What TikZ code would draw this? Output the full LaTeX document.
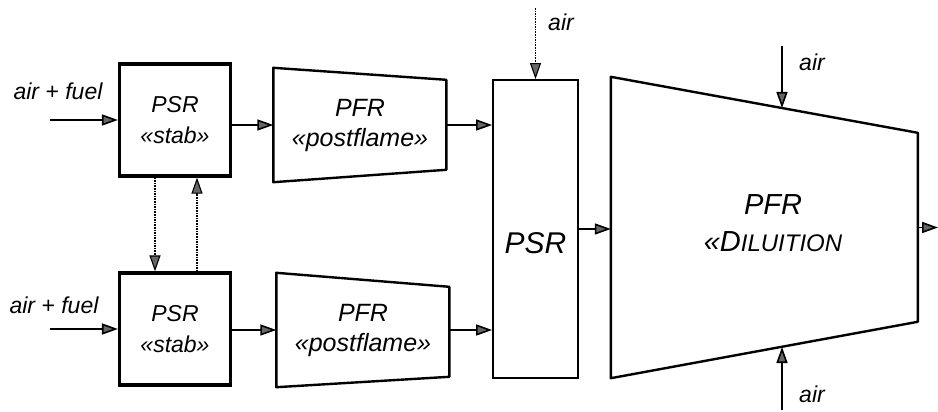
\documentclass[tikz,border=0pt]{standalone}
\usepackage{fontspec}
\setmainfont{Liberation Sans}
\usetikzlibrary{arrows.meta,shapes}

\begin{document}
\begin{tikzpicture}[x=1pt,y=-1pt,
    every node/.style={font=\itshape\fontsize{23}{31}\selectfont, align=center},
    psrbox/.style={draw, line width=3.2pt, minimum width=111pt, minimum height=112pt, inner sep=0pt},
    pfrbox/.style={minimum width=173pt, minimum height=114pt, inner sep=0pt, font=\itshape\fontsize{25}{30}\selectfont},
    pfrline/.style={line width=2.4pt, line join=round},
    flow/.style={line width=1.6pt, -{Triangle[length=16pt,width=11pt,fill=black!60]}},
    recyc/.style={flow, densely dotted, line width=1.1pt}]
  \useasboundingbox (0,0) rectangle (938,412);

  % two stabilising reactors
  \node[psrbox] (psr1) at (175,120) {PSR\\«stab»};
  \node[psrbox] (psr2) at (175,329) {PSR\\«stab»};
  \node (feed1) at (58,91) {air + fuel};
  \node (feed2) at (54,305) {air + fuel};
  \coordinate (in1) at (50,120);
  \coordinate (in2) at (50,329);
  \draw[flow] (in1) -- (psr1.west);
  \draw[flow] (in2) -- (psr2.west);
  \draw[recyc] ([xshift=-20pt]psr1.south) -- ([xshift=-20pt]psr2.north);
  \draw[recyc] ([xshift=22pt]psr2.north) -- ([xshift=22pt]psr1.south);

  % post flame zones
  \node[pfrbox] (pfr1) at (360,125) {PFR\\«postflame»};
  \node[pfrbox] (pfr2) at (363,330) {PFR\\«postflame»};
  \draw[pfrline] (pfr1.north west) -- ++(173,12) -- ++(0,90) -- (pfr1.south west) -- cycle;
  \draw[pfrline] (pfr2.north west) -- ++(173,14) -- ++(0,90) -- (pfr2.south west) -- cycle;
  \draw[flow] (psr1.east |- pfr1.west) -- (pfr1.west);
  \draw[flow] (psr2.east |- pfr2.west) -- (pfr2.west);

  % mixing reactor
  \node[draw, line width=1.8pt, minimum width=85pt, minimum height=298pt] (psr3) at (535.5,229) {};
  \node[font=\itshape\fontsize{30}{30}\selectfont] (psr3txt) at ([yshift=-14pt]psr3.center) {PSR};
  \draw[flow] (pfr1.east) -- (pfr1.east -| psr3.west);
  \draw[flow] (pfr2.east) -- (pfr2.east -| psr3.west);
  \coordinate (air1) at (535.5,8);
  \node[font=\itshape\fontsize{23}{23}\selectfont] (airlab1) at (561,22) {air};
  \draw[flow, densely dotted, line width=1.1pt] (air1) -- (psr3.north);

  % dilution zone
  \node[minimum width=307pt, minimum height=301pt, inner sep=0pt] (pfr3) at (764.5,227.5) {};
  \draw[pfrline] (pfr3.north west) -- ++(307,56) -- ++(0,189) -- (pfr3.south west) -- cycle;
  \node[font=\itshape\fontsize{29}{37}\selectfont] (pfr3txt) at (773,223) {PFR\\«D{\fontsize{24}{24}\selectfont ILUITION}};
  \draw[flow] (psr3.east) -- (psr3.east -| pfr3.west);
  \coordinate (out) at (938,227.5);
  \draw[flow] (pfr3.east) -- (out);
  \coordinate (air2) at (782,46);
  \coordinate (air2in) at (782,108);
  \coordinate (air3) at (782,410);
  \coordinate (air3in) at (782,347);
  \node[font=\itshape\fontsize{23}{23}\selectfont] (airlab2) at (812,62) {air};
  \node[font=\itshape\fontsize{23}{23}\selectfont] (airlab3) at (812,394) {air};
  \draw[flow] (air2) -- (air2in);
  \draw[flow] (air3) -- (air3in);
\end{tikzpicture}
\end{document}
